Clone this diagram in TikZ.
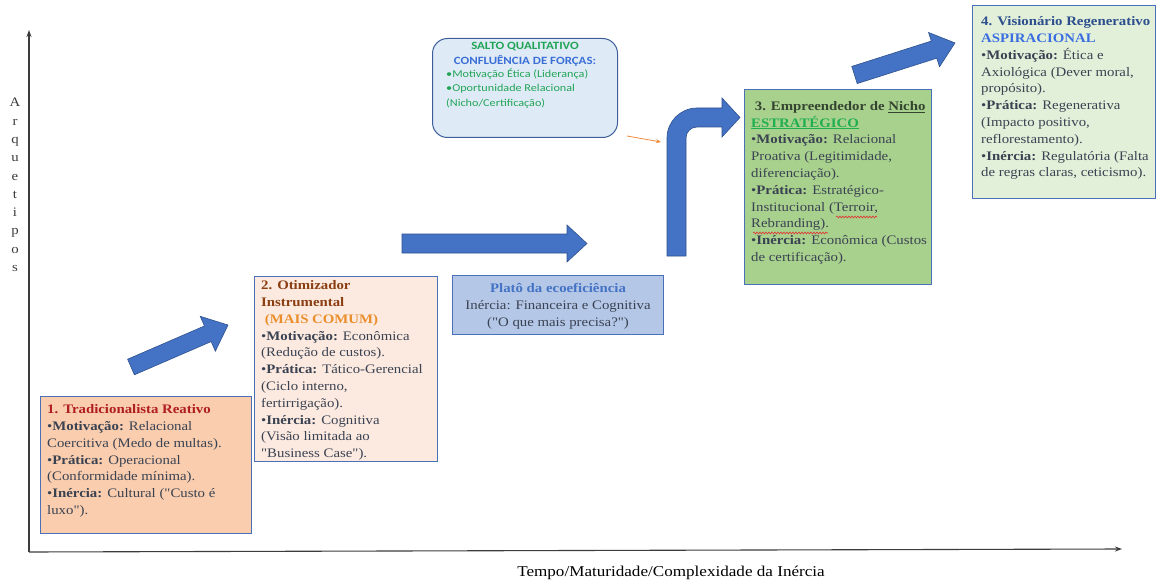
\documentclass[tikz,border=0pt]{standalone}
\usepackage{fontspec}
\setmainfont{Liberation Serif}[Ligatures=TeXOff, FakeStretch=1.14]
\newfontfamily\calibri{Carlito}[FakeStretch=1.16]
\usetikzlibrary{arrows.meta,decorations.pathmorphing}

\definecolor{bodytext}{HTML}{3A4252}
\definecolor{cardline}{HTML}{4A70B8}
\definecolor{arrowfill}{HTML}{4472C4}
\definecolor{arrowline}{HTML}{2F528F}
\definecolor{fillA}{HTML}{F9CDAE}
\definecolor{fillB}{HTML}{FCEAE0}
\definecolor{fillP}{HTML}{B4C7E7}
\definecolor{fillC}{HTML}{A9D18E}
\definecolor{fillD}{HTML}{E2F0D9}
\definecolor{fillS}{HTML}{DEEBF7}
\definecolor{lineS}{HTML}{3D5F99}
\definecolor{titleA}{HTML}{B01E1E}
\definecolor{titleB}{HTML}{8A3E12}
\definecolor{accentB}{HTML}{EA8E2C}
\definecolor{titleC}{HTML}{34452F}
\definecolor{accentC}{HTML}{1FAF50}
\definecolor{titleD}{HTML}{2C4E8C}
\definecolor{accentD}{HTML}{3A6EE0}
\definecolor{titleP}{HTML}{4472C4}
\definecolor{greenS}{HTML}{22A455}
\definecolor{blueS}{HTML}{3B6FD6}
\definecolor{axis}{HTML}{3C3C3C}
\definecolor{pointer}{HTML}{F08A3C}
\definecolor{spell}{HTML}{E03030}

\tikzset{
  card/.style={draw=cardline, line width=1pt, rectangle, inner sep=0pt, anchor=north west},
  body/.style={anchor=north west, inner sep=0pt, align=left, text=bodytext,
    font=\fontsize{13}{16.8}\selectfont},
  pics/blockarrow/.style n args={4}{code={
    \filldraw[fill=arrowfill, draw=arrowline, line width=0.6pt]
      (0,-#2) -- (#1-#4,-#2) -- (#1-#4,-#3) -- (#1,0) -- (#1-#4,#3)
      -- (#1-#4,#2) -- (0,#2) -- cycle;}},
  wavy/.style={draw=spell, line width=0.6pt,
    decorate, decoration={snake, amplitude=0.9pt, segment length=3pt}}
}

\begin{document}
\begin{tikzpicture}[x=1pt,y=-1pt]
\useasboundingbox (0,0) rectangle (1160,583);
\fill[white] (0,0) rectangle (1160,583);

% axes
\coordinate (origin) at (29,552);
\coordinate (ytop) at (29,30);
\coordinate (xend) at (1122,549);
\draw[axis, line width=1.1pt, -{Stealth[length=7pt,width=5pt]}] (origin) -- (ytop);
\draw[axis, line width=1.1pt, -{Stealth[length=7pt,width=5pt]}] (origin) -- (xend);
\node[font=\fontsize{13}{18.3}\selectfont, align=center, text=axis, inner sep=0pt]
  (ylabel) at (15,185) {A\\r\\q\\u\\e\\t\\i\\p\\o\\s};
\node[font=\fontsize{15}{16}\selectfont, text=black, inner sep=0pt]
  (xlabel) at (671,573) {Tempo/Maturidade/Complexidade da Inércia};

% block arrows between the stages
\pic[rotate=23.4] at (131,367) {blockarrow={105.7}{8.5}{19}{22}};
\pic at (402,243.5) {blockarrow={185}{9.5}{18.5}{20}};
\pic[rotate=17.7] at (854.5,75) {blockarrow={105.5}{9}{18}{22}};
\filldraw[fill=arrowfill, draw=arrowline, line width=0.6pt]
  (667,256) -- (667,138) arc[start angle=180, end angle=90, radius=30pt]
  -- (722,108) -- (722,98) -- (740,117.5) -- (722,137) -- (722,127)
  -- (697,127) arc[start angle=90, end angle=180, radius=11pt]
  -- (686,256) -- cycle;

% stage 1
\node[card, fill=fillA, minimum width=211pt, minimum height=137pt] (b1) at (40,396) {};
\node[body] (t1) at ([xshift=7pt,yshift=-8.5pt]b1.north west) {%
  {\color{titleA}\bfseries 1. Tradicionalista Reativo}\\
  •\textbf{Motivação:} Relacional\\
  Coercitiva (Medo de multas).\\
  •\textbf{Prática:} Operacional\\
  (Conformidade mínima).\\
  •\textbf{Inércia:} Cultural ("Custo é\\
  luxo").};

% stage 2
\node[card, fill=fillB, minimum width=183pt, minimum height=185pt] (b2) at (254,276) {};
\node[body] (t2) at ([xshift=7pt,yshift=-4.5pt]b2.north west) {%
  {\color{titleB}\bfseries 2. Otimizador}\\
  {\color{titleB}\bfseries Instrumental}\\
  {\color{accentB}\bfseries\ (MAIS COMUM)}\\
  •\textbf{Motivação:} Econômica\\
  (Redução de custos).\\
  •\textbf{Prática:} Tático-Gerencial\\
  (Ciclo interno,\\
  fertirrigação).\\
  •\textbf{Inércia:} Cognitiva\\
  (Visão limitada ao\\
  "Business Case").};

% plateau
\node[card, fill=fillP, minimum width=211pt, minimum height=59pt] (bp) at (452,275) {};
\node[body, anchor=north, align=center] (tp) at ([yshift=-8.5pt]bp.north) {%
  {\color{titleP}\bfseries Platô da ecoeficiência}\\
  Inércia: Financeira e Cognitiva\\
  ("O que mais precisa?")};

% qualitative leap
\node[draw=lineS, fill=fillS, line width=1pt, rounded corners=15pt, inner sep=0pt,
  anchor=north west, minimum width=185pt, minimum height=99pt] (bs) at (432,38) {};
\node[anchor=north, align=center, inner sep=0pt,
  font=\calibri\bfseries\fontsize{11.1}{14.8}\selectfont] (ts1) at (525,42) {%
  {\color{greenS}SALTO QUALITATIVO}\\
  {\color{blueS}CONFLUÊNCIA DE FORÇAS:}};
\node[anchor=north west, align=left, inner sep=0pt, text=greenS,
  font=\calibri\fontsize{10.5}{14.3}\selectfont] (ts2) at (446,68.5) {%
  •Motivação Ética (Liderança)\\
  •Oportunidade Relacional\\
  (Nicho/Certificação)};
\coordinate (pfrom) at (627,136);
\coordinate (pto) at (661,142);
\draw[pointer, line width=0.8pt, -{Stealth[length=5pt,width=4pt]}] (pfrom) -- (pto);

% stage 3
\node[card, fill=fillC, minimum width=187pt, minimum height=195pt] (b3) at (744,89) {};
\node[body] (t3) at ([xshift=7pt,yshift=-12pt]b3.north west) {%
  {\color{titleC}\bfseries\ 3. Empreendedor de \underline{Nicho}}\\
  {\color{accentC}\bfseries\underline{ESTRATÉGICO}}\\
  •\textbf{Motivação:} Relacional\\
  Proativa (Legitimidade,\\
  diferenciação).\\
  •\textbf{Prática:} Estratégico-\\
  Institucional (Terroir,\\
  Rebranding).\\
  •\textbf{Inércia:} Econômica (Custos\\
  de certificação).};
\coordinate (w1a) at (836,217);
\coordinate (w1b) at (877,217);
\coordinate (w2a) at (753,233);
\coordinate (w2b) at (828,233);
\draw[wavy] (w1a) -- (w1b);
\draw[wavy] (w2a) -- (w2b);

% stage 4
\node[card, fill=fillD, minimum width=183pt, minimum height=193pt] (b4) at (972,5) {};
\node[body] (t4) at ([xshift=9pt,yshift=-11.5pt]b4.north west) {%
  {\color{titleD}\bfseries 4. Visionário Regenerativo}\\
  {\color{accentD}\bfseries ASPIRACIONAL}\\
  •\textbf{Motivação:} Ética e\\
  Axiológica (Dever moral,\\
  propósito).\\
  •\textbf{Prática:} Regenerativa\\
  (Impacto positivo,\\
  reflorestamento).\\
  •\textbf{Inércia:} Regulatória (Falta\\
  de regras claras, ceticismo).};
\end{tikzpicture}
\end{document}
